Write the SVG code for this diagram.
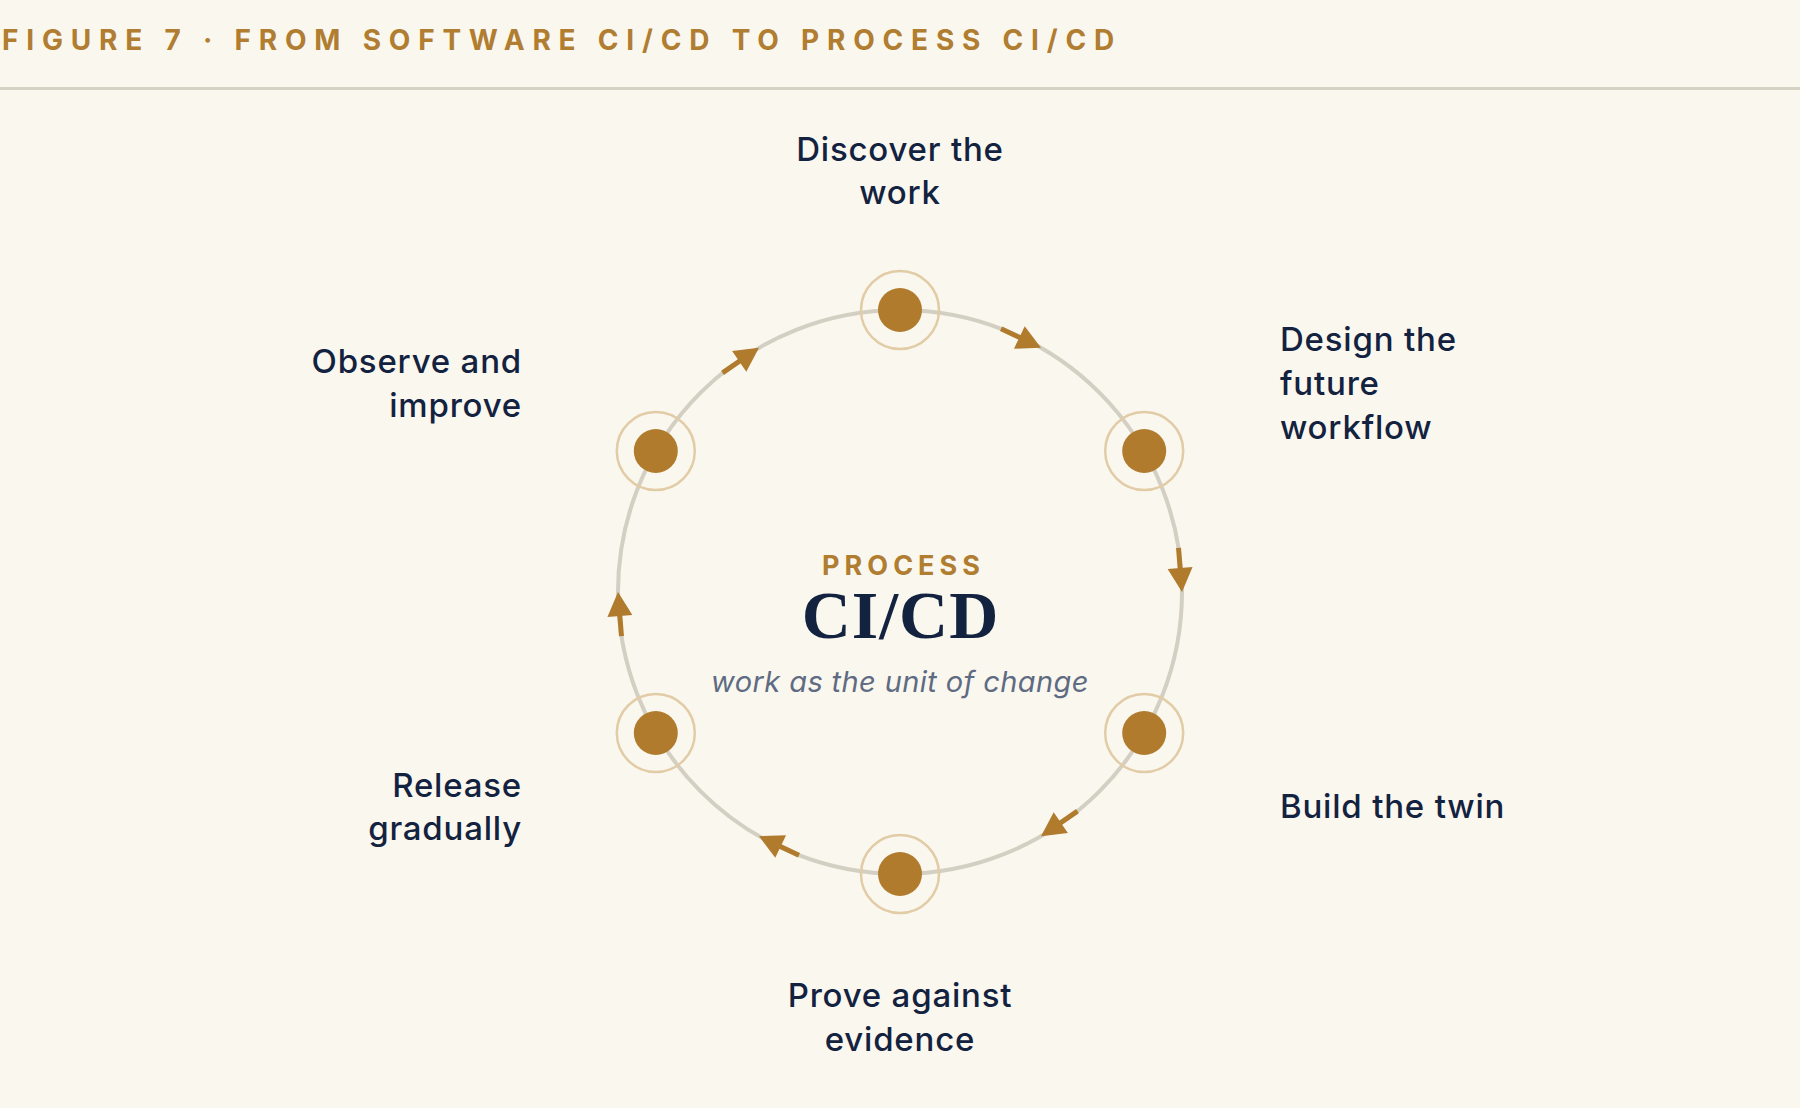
<svg xmlns="http://www.w3.org/2000/svg" width="1800" height="1108" viewBox="0 0 1800 1108">
  <style>
    .title { font-family: Inter, "Liberation Sans", sans-serif; font-weight: 700; font-size: 28px; letter-spacing: 7.8px; fill: #B07D31; }
    .label { font-family: Inter, "Liberation Sans", sans-serif; font-weight: 500; font-size: 33px; letter-spacing: 0.8px; fill: #13223F; }
    .kicker { font-family: Inter, "Liberation Sans", sans-serif; font-weight: 700; font-size: 27px; letter-spacing: 5px; fill: #B07D31; }
    .big { font-family: "Liberation Serif", serif; font-weight: 700; font-size: 68px; letter-spacing: 1px; fill: #13223F; }
    .sub { font-family: Inter, "Liberation Sans", sans-serif; font-style: italic; font-size: 29px; letter-spacing: 0.4px; fill: #5E6B82; }
    .track { fill: none; stroke: #D3CFC2; stroke-width: 4; }
    .ring { fill: none; stroke: #E2CCA6; stroke-width: 2.5; }
    .dot { fill: #B07B2D; }
    .shaft { stroke: #B07B2D; stroke-width: 5; fill: none; }
    .head { fill: #B07B2D; }
  </style>
  <defs>
    <g id="arrow">
      <line class="shaft" x1="1001.06" y1="328.73" x2="1021.15" y2="338.31"/>
      <polygon class="head" points="1041,347.78 1013.96,348.73 1024.72,326.17"/>
    </g>
  </defs>
  <rect x="0" y="0" width="1800" height="1108" fill="#FAF7EF"/>

  <g id="header">
    <text class="title" x="2" y="50">FIGURE 7 · FROM SOFTWARE CI/CD TO PROCESS CI/CD</text>
    <line x1="0" y1="88.5" x2="1800" y2="88.5" stroke="#D5D1C3" stroke-width="3"/>
  </g>

  <g id="connectors">
    <circle class="track" cx="900" cy="592" r="282"/>
    <use href="#arrow"/>
    <use href="#arrow" transform="rotate(60 900 592)"/>
    <use href="#arrow" transform="rotate(120 900 592)"/>
    <use href="#arrow" transform="rotate(180 900 592)"/>
    <use href="#arrow" transform="rotate(240 900 592)"/>
    <use href="#arrow" transform="rotate(300 900 592)"/>
  </g>

  <g id="center">
    <text class="kicker" x="903.5" y="575" text-anchor="middle">PROCESS</text>
    <text class="big" x="900.5" y="638" text-anchor="middle">CI/CD</text>
    <text class="sub" x="900" y="692" text-anchor="middle">work as the unit of change</text>
  </g>

  <g id="node-discover">
    <circle class="ring" cx="900" cy="310" r="39"/>
    <circle class="dot" cx="900" cy="310" r="22"/>
    <text class="label" x="900" y="161" text-anchor="middle">Discover the</text>
    <text class="label" x="900" y="204" text-anchor="middle">work</text>
  </g>

  <g id="node-design">
    <circle class="ring" cx="1144.2" cy="451" r="39"/>
    <circle class="dot" cx="1144.2" cy="451" r="22"/>
    <text class="label" x="1280" y="351">Design the</text>
    <text class="label" x="1280" y="395">future</text>
    <text class="label" x="1280" y="439">workflow</text>
  </g>

  <g id="node-build">
    <circle class="ring" cx="1144.2" cy="733" r="39"/>
    <circle class="dot" cx="1144.2" cy="733" r="22"/>
    <text class="label" x="1280" y="818">Build the twin</text>
  </g>

  <g id="node-prove">
    <circle class="ring" cx="900" cy="874" r="39"/>
    <circle class="dot" cx="900" cy="874" r="22"/>
    <text class="label" x="900" y="1007" text-anchor="middle">Prove against</text>
    <text class="label" x="900" y="1051" text-anchor="middle">evidence</text>
  </g>

  <g id="node-release">
    <circle class="ring" cx="655.8" cy="733" r="39"/>
    <circle class="dot" cx="655.8" cy="733" r="22"/>
    <text class="label" x="522" y="797" text-anchor="end">Release</text>
    <text class="label" x="522" y="840" text-anchor="end">gradually</text>
  </g>

  <g id="node-observe">
    <circle class="ring" cx="655.8" cy="451" r="39"/>
    <circle class="dot" cx="655.8" cy="451" r="22"/>
    <text class="label" x="522" y="373" text-anchor="end">Observe and</text>
    <text class="label" x="522" y="417" text-anchor="end">improve</text>
  </g>
</svg>
